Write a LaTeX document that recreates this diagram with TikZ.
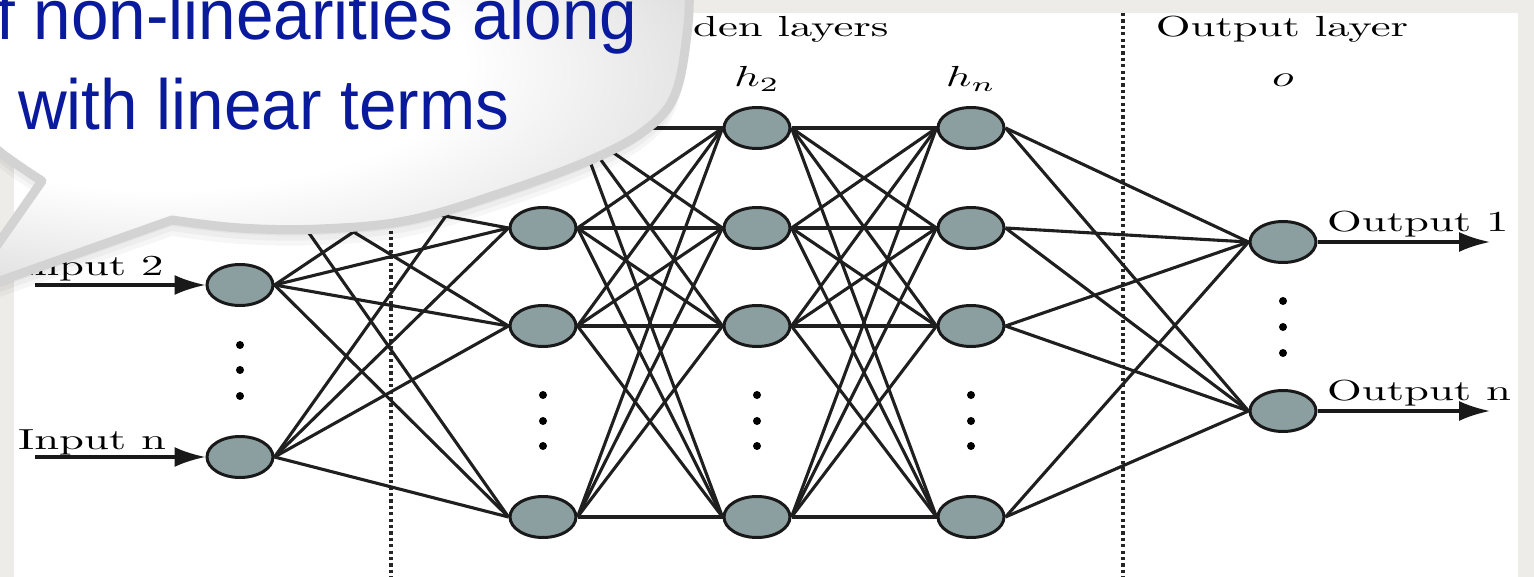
\documentclass[tikz,border=0pt]{standalone}
\usepackage{fontspec}
\usepackage{graphicx}
\usetikzlibrary{shapes.geometric,arrows.meta}
\newfontfamily\bubblefont[FakeStretch=0.95]{Liberation Sans}
\definecolor{bgtex}{HTML}{EDECE8}
\definecolor{nodefill}{HTML}{8C9FA0}
\definecolor{bubbleblue}{HTML}{0A1A9C}
\definecolor{bubbleedge}{HTML}{D3D3D3}
\newcommand{\wt}[1]{\scalebox{4.47}[2.9]{\fontsize{10}{12}\selectfont #1}}
\pgfdeclareradialshading{bubbleshade}{\pgfpoint{-10bp}{12bp}}{color(0bp)=(white); color(18bp)=(white); color(35bp)=(black!16); color(50bp)=(black!19)}
\newcommand{\bubblepath}{(-150,-60) -- (690,-60)
  -- plot[smooth,tension=0.6] coordinates {(689,-20) (688,25) (676,92) (648,128) (595,158) (510,190) (410,220) (320,229) (240,228) (172,220)}
  -- (-37,294) -- (42,181)
  -- plot[smooth] coordinates {(42,181) (0,152) (-60,100)}
  -- cycle}
\begin{document}
\begin{tikzpicture}[x=1pt,y=-1pt,
  neuron/.style={ellipse,draw=black!90,line width=3pt,fill=nodefill,minimum width=66pt,minimum height=41pt,inner sep=0pt},
  link/.style={line width=3.1pt,black!88},
  lbl/.style={inner sep=0pt},
  sep/.style={line width=3.4pt,dash pattern=on 3.2pt off 3.2pt,black!85},
  io/.style={line width=3.1pt,black!90,-{Latex[length=31pt,width=20pt]}},
  dotn/.style={circle,fill=black,inner sep=0pt,minimum size=8pt},
  bubbletext/.style={font=\bubblefont\fontsize{71}{80}\selectfont,text=bubbleblue,anchor=base west,inner sep=0pt}
]
\useasboundingbox (0,0) rectangle (1534,577);
\clip (0,0) rectangle (1534,577);
\fill[bgtex] (0,0) rectangle (1534,577);
\fill[white] (14,13) rectangle (1518,590);

% separators
\draw[sep] (391,13) -- (391,590);
\draw[sep] (1123,13) -- (1123,590);

% neurons
\node[neuron] (i1) at (240,184) {};
\node[neuron] (i2) at (240,285) {};
\node[neuron] (iN) at (240,457) {};
\foreach \n/\y in {1/128,2/228,3/326,4/517}{
  \node[neuron] (a\n) at (543,\y) {};
  \node[neuron] (b\n) at (757,\y) {};
  \node[neuron] (c\n) at (971,\y) {};
}
\node[neuron] (o1) at (1283,242) {};
\node[neuron] (o2) at (1283,411) {};

% links
\foreach \s in {i1,i2,iN}{\foreach \t in {a1,a2,a3,a4}{\draw[link] (\s.east) -- (\t.west);}}
\foreach \s in {a1,a2,a3,a4}{\foreach \t in {b1,b2,b3,b4}{\draw[link] (\s.east) -- (\t.west);}}
\foreach \s in {b1,b2,b3,b4}{\foreach \t in {c1,c2,c3,c4}{\draw[link] (\s.east) -- (\t.west);}}
\foreach \s in {c1,c2,c3,c4}{\foreach \t in {o1,o2}{\draw[link] (\s.east) -- (\t.west);}}

% dots
\foreach \y [count=\k] in {345,370,396}{\node[dotn] (di\k) at (240,\y) {};}
\foreach \y [count=\k] in {395,421,446}{
  \node[dotn] (da\k) at (543,\y) {};
  \node[dotn] (db\k) at (757,\y) {};
  \node[dotn] (dc\k) at (971,\y) {};
}
\foreach \y [count=\k] in {301,327,353}{\node[dotn] (do\k) at (1283,\y) {};}

% input / output arrows
\coordinate (s2) at (35,285);
\coordinate (sN) at (35,457);
\coordinate (e1) at (1490,242);
\coordinate (e2) at (1490,411);
\draw[io] (s2) -- (i2.west);
\draw[io] (sN) -- (iN.west);
\draw[io] (o1.east) -- (e1);
\draw[io] (o2.east) -- (e2);

% labels
\node[lbl,anchor=base west] (tHid) at (693,37) {\wt{den layers}};
\node[lbl,anchor=base] (tOut) at (1282,37) {\wt{Output layer}};
\node[lbl,anchor=base] (lh2) at (757,87) {\wt{$h_2$}};
\node[lbl,anchor=base] (lhn) at (971,87) {\wt{$h_n$}};
\node[lbl,anchor=base] (lo) at (1283,87) {\wt{$o$}};
\node[lbl,anchor=base west] (lin2) at (18,276) {\wt{Input 2}};
\node[lbl,anchor=base west] (linN) at (18,449) {\wt{Input n}};
\node[lbl,anchor=base west] (lout1) at (1327,232) {\wt{Output 1}};
\node[lbl,anchor=base west] (loutN) at (1327,400) {\wt{Output n}};

% speech bubble: soft shadow, body, text
\foreach \d in {16,11,6}{
  \fill[black,opacity=0.035,shift={(0,\d)}] \bubblepath;
}
\shadedraw[shading=bubbleshade,draw=bubbleedge,line width=9pt,line join=round] \bubblepath;
\node[bubbletext] (q1) at (-4,40) {f non-linearities along};
\node[bubbletext] (q2) at (18,130) {with linear terms};
\end{tikzpicture}
\end{document}
